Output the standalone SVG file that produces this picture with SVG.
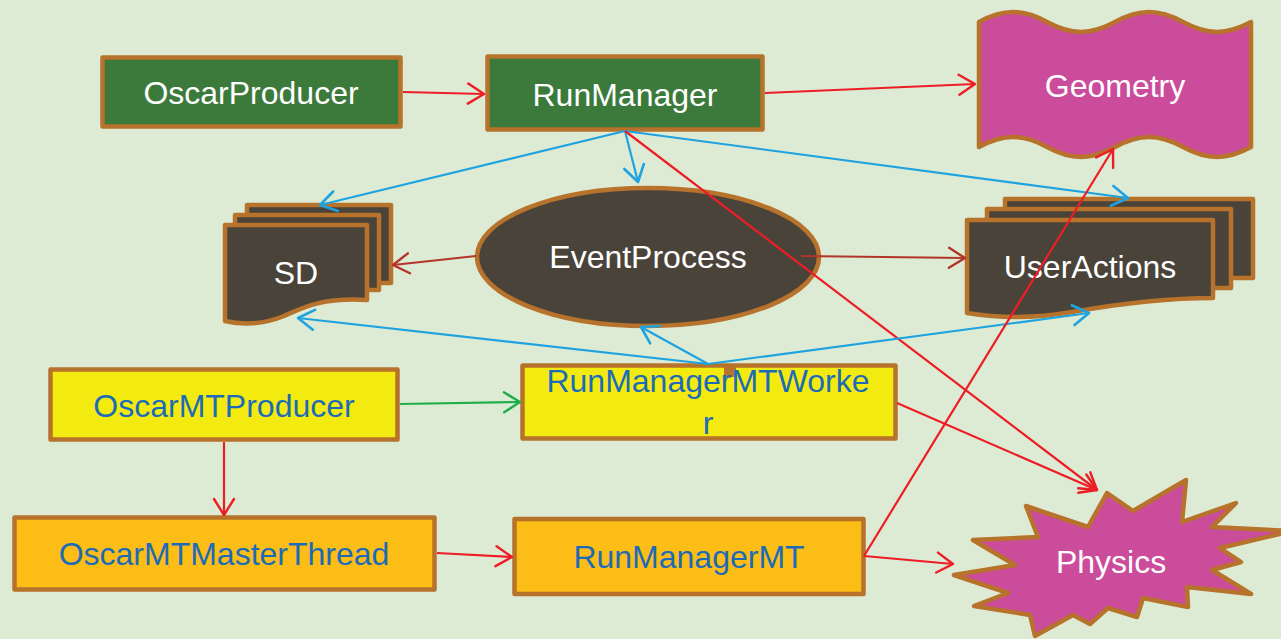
<svg xmlns="http://www.w3.org/2000/svg" width="1281" height="639" viewBox="0 0 1281 639">
  <style>
    .box { stroke: #b7722b; stroke-width: 4.5; stroke-linejoin: round; }
    .green { fill: #3b7a3a; }
    .yellow { fill: #f3eb10; }
    .orange { fill: #fbbd16; }
    .dark { fill: #4a4339; }
    .pink { fill: #cc4c9c; }
    .lbl { font-family: "Liberation Sans", Arial, sans-serif; font-size: 32px; text-anchor: middle; }
    .w { fill: #ffffff; }
    .b { fill: #1c6bb8; }
    .c { fill: none; stroke-width: 2.2; }
    .red { stroke: #ee1d25; }
    .blue { stroke: #1ea3e0; }
    .dred { stroke: #b3352a; }
    .grn { stroke: #1eaf4a; }
  </style>
  <defs>
    <marker id="ah-red" viewBox="0 0 20 24" markerWidth="20" markerHeight="24" refX="18" refY="12" orient="auto" markerUnits="userSpaceOnUse">
      <path d="M2,2 L18,12 L2,22" fill="none" stroke="#ee1d25" stroke-width="2.4" stroke-linecap="round" stroke-linejoin="round"/>
    </marker>
    <marker id="ah-blue" viewBox="0 0 20 24" markerWidth="20" markerHeight="24" refX="18" refY="12" orient="auto" markerUnits="userSpaceOnUse">
      <path d="M2,2 L18,12 L2,22" fill="none" stroke="#1ea3e0" stroke-width="2.6" stroke-linecap="round" stroke-linejoin="round"/>
    </marker>
    <marker id="ah-dred" viewBox="0 0 20 24" markerWidth="20" markerHeight="24" refX="18" refY="12" orient="auto" markerUnits="userSpaceOnUse">
      <path d="M2,2 L18,12 L2,22" fill="none" stroke="#b3352a" stroke-width="2.4" stroke-linecap="round" stroke-linejoin="round"/>
    </marker>
    <marker id="ah-grn" viewBox="0 0 20 24" markerWidth="20" markerHeight="24" refX="18" refY="12" orient="auto" markerUnits="userSpaceOnUse">
      <path d="M2,2 L18,12 L2,22" fill="none" stroke="#1eaf4a" stroke-width="2.4" stroke-linecap="round" stroke-linejoin="round"/>
    </marker>
  </defs>

  <rect width="1281" height="639" fill="#ddebd4"/>

  <g id="OscarProducer">
    <rect class="box green" x="102.5" y="57.5" width="298" height="69"/>
    <text class="lbl w" x="251" y="104">OscarProducer</text>
  </g>

  <g id="RunManager">
    <rect class="box green" x="487.5" y="56.5" width="275" height="73"/>
    <text class="lbl w" x="625" y="106">RunManager</text>
  </g>

  <g id="Geometry">
    <path class="box pink" d="M979,22 C1003.5,8.7 1022.5,8.7 1047,22 C1071.5,35.3 1090.5,35.3 1115,22 C1139.5,8.7 1158.5,8.7 1183,22 C1207.5,35.3 1226.5,35.3 1251,22 L1251,147 C1226.5,160.3 1207.5,160.3 1183,147 C1158.5,133.7 1139.5,133.7 1115,147 C1090.5,160.3 1071.5,160.3 1047,147 C1022.5,133.7 1003.5,133.7 979,147 Z"/>
    <text class="lbl w" x="1115" y="97">Geometry</text>
  </g>

  <g id="SD">
    <rect class="box dark" x="247" y="205" width="144" height="78"/>
    <rect class="box dark" x="235" y="215" width="144" height="75"/>
    <path class="box dark" d="M225,225 L367,225 L367,300 C322,297 302,308 284,316 C262,325 243,325 225,321 Z"/>
    <text class="lbl w" x="296" y="284">SD</text>
  </g>

  <g id="EventProcess">
    <ellipse class="box dark" cx="648" cy="257" rx="171" ry="69"/>
    <text class="lbl w" x="648" y="268">EventProcess</text>
  </g>

  <g id="UserActions">
    <rect class="box dark" x="1005" y="199" width="248" height="79"/>
    <rect class="box dark" x="987" y="209" width="244" height="79"/>
    <path class="box dark" d="M967,220 L1213,220 L1213,298 C1160,298 1112,305 1072,312 C1032,319 998,318 967,313 Z"/>
    <text class="lbl w" x="1090" y="278">UserActions</text>
  </g>

  <g id="OscarMTProducer">
    <rect class="box yellow" x="50.5" y="369.5" width="347" height="70"/>
    <text class="lbl b" x="224" y="417">OscarMTProducer</text>
  </g>

  <g id="RunManagerMTWorker">
    <rect class="box yellow" x="522.5" y="365.5" width="373" height="73"/>
    <rect x="724" y="366" width="12" height="11" fill="#b7722b"/>
    <text class="lbl b" x="708"><tspan x="708" y="392">RunManagerMTWorke</tspan><tspan x="708" y="434">r</tspan></text>
  </g>

  <g id="OscarMTMasterThread">
    <rect class="box orange" x="14.5" y="517.5" width="420" height="72"/>
    <text class="lbl b" x="224" y="565">OscarMTMasterThread</text>
  </g>

  <g id="RunManagerMT">
    <rect class="box orange" x="514.5" y="519" width="349" height="75"/>
    <text class="lbl b" x="689" y="568">RunManagerMT</text>
  </g>

  <g id="Physics">
    <polygon class="box pink" points="1107,493 1133,511 1186,480 1182,522 1236,503 1212,527 1292,531 1220,548 1241,562 1212,570 1251,594 1187,587 1188,607 1143,598 1137,617 1108,608 1090,624 1073,615 1035,636 1030,615 974,606 1008,593 954,575 1015,565 973,540 1038,537 1026,506 1088,527"/>
    <text class="lbl w" x="1111" y="573">Physics</text>
  </g>

  <g id="connectors">
    <line class="c red" x1="403" y1="92" x2="484" y2="94" marker-end="url(#ah-red)"/>
    <line class="c red" x1="765" y1="93" x2="975" y2="84" marker-end="url(#ah-red)"/>
    <line class="c blue" x1="625" y1="131" x2="320" y2="205" marker-end="url(#ah-blue)"/>
    <line class="c blue" x1="625" y1="131" x2="638" y2="182" marker-end="url(#ah-blue)"/>
    <line class="c blue" x1="625" y1="131" x2="1128" y2="198" marker-end="url(#ah-blue)"/>
    <line class="c red" x1="625" y1="131" x2="1097" y2="490" marker-end="url(#ah-red)"/>
    <line class="c dred" x1="476" y1="256" x2="393" y2="265" marker-end="url(#ah-dred)"/>
    <line class="c dred" x1="801" y1="256" x2="965" y2="258" marker-end="url(#ah-dred)"/>
    <line class="c blue" x1="708" y1="364" x2="298" y2="318" marker-end="url(#ah-blue)"/>
    <line class="c blue" x1="708" y1="364" x2="641" y2="327" marker-end="url(#ah-blue)"/>
    <line class="c blue" x1="708" y1="364" x2="1089" y2="313" marker-end="url(#ah-blue)"/>
    <line class="c grn" x1="400" y1="404" x2="520" y2="402" marker-end="url(#ah-grn)"/>
    <line class="c red" x1="897" y1="403" x2="1097" y2="490" marker-end="url(#ah-red)"/>
    <line class="c red" x1="224" y1="442" x2="224" y2="515" marker-end="url(#ah-red)"/>
    <line class="c red" x1="437" y1="553" x2="512" y2="557" marker-end="url(#ah-red)"/>
    <line class="c red" x1="864" y1="556" x2="953" y2="564" marker-end="url(#ah-red)"/>
    <line class="c red" x1="864" y1="556" x2="1113" y2="149" marker-end="url(#ah-red)"/>
  </g>
</svg>
